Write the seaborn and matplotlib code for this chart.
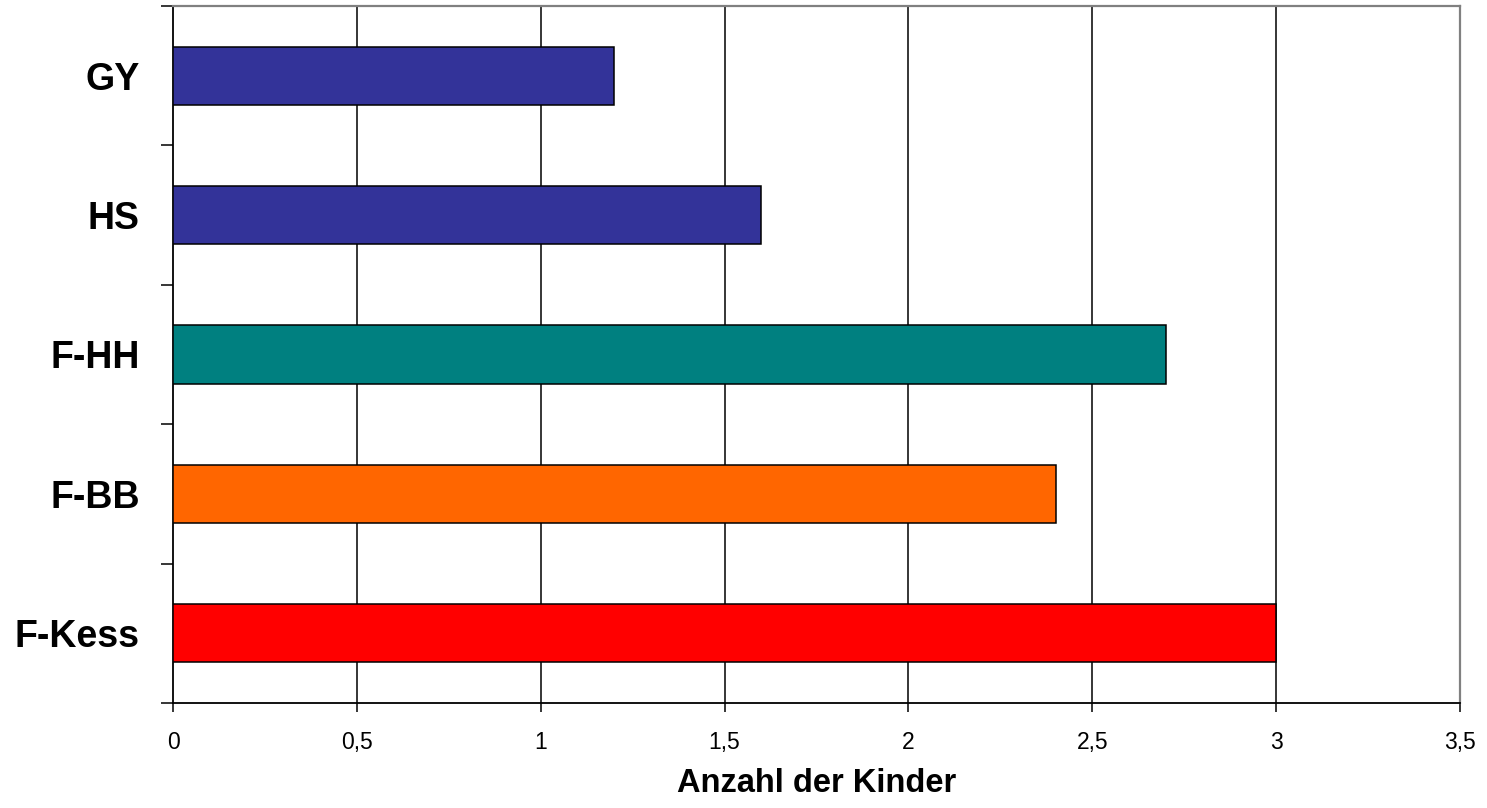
import matplotlib
matplotlib.use("Agg")
import matplotlib.pyplot as plt
from matplotlib.ticker import FixedLocator, FuncFormatter
import seaborn as sns
import pandas as pd

# Schulformen und durchschnittliche Kinderzahl
categories = ["GY", "HS", "F-HH", "F-BB", "F-Kess"]
values = [1.2, 1.6, 2.7, 2.4, 3.0]
colors = ["#333399", "#333399", "#008080", "#FF6600", "#FF0000"]
x_ticks = [0, 0.5, 1, 1.5, 2, 2.5, 3, 3.5]

sns.set_theme(style="white")
plt.rcParams["font.family"] = ["Liberation Sans", "DejaVu Sans"]
plt.rcParams["text.color"] = "black"
plt.rcParams["axes.labelcolor"] = "black"
plt.rcParams["xtick.color"] = "black"
plt.rcParams["ytick.color"] = "black"

df = pd.DataFrame({"Schulform": categories, "Kinder": values})

fig = plt.figure(figsize=(14.87, 8.08), dpi=100)
ax = fig.add_axes([173 / 1487, 1 - 703 / 808, (1460 - 173) / 1487, (703 - 6) / 808])

sns.barplot(data=df, x="Kinder", y="Schulform", hue="Schulform",
            palette=colors, order=categories, hue_order=categories,
            orient="h", width=0.417, edgecolor="black", linewidth=1.1,
            saturation=1, legend=False, ax=ax, zorder=3)

ax.set_xlim(0, 3.5)
ax.set_ylim(len(categories) - 0.5, -0.5)

# vertical grid lines
for xv in x_ticks[1:-1]:
    ax.axvline(xv, color="black", linewidth=1.1, zorder=1)

ax.xaxis.set_major_locator(FixedLocator(x_ticks))
ax.xaxis.set_major_formatter(FuncFormatter(lambda v, p: f"{v:g}".replace(".", ",")))
ax.tick_params(axis="x", which="major", direction="out", length=6.5, width=1.1,
               color="black", labelcolor="black", labelsize=16.5, pad=14, bottom=True)

# category labels centered, tick marks on category boundaries
ax.set_yticks(range(len(categories)))
ax.set_yticklabels(categories, fontsize=27, fontweight="bold", color="black")
ax.yaxis.set_minor_locator(FixedLocator([i - 0.5 for i in range(len(categories) + 1)]))
ax.tick_params(axis="y", which="major", length=0, pad=24)
ax.tick_params(axis="y", which="minor", direction="out", length=9, width=1.1,
               color="black", left=True)

ax.set_ylabel("")
ax.set_xlabel("Anzahl der Kinder", fontsize=23.5, fontweight="bold",
              color="black", labelpad=10)

for side in ("left", "bottom"):
    ax.spines[side].set_color("black")
    ax.spines[side].set_linewidth(1.3)
for side in ("top", "right"):
    ax.spines[side].set_visible(True)
    ax.spines[side].set_color("#808080")
    ax.spines[side].set_linewidth(1.6)
ax.grid(False)

fig.savefig("out.png", dpi=100, facecolor="white")
